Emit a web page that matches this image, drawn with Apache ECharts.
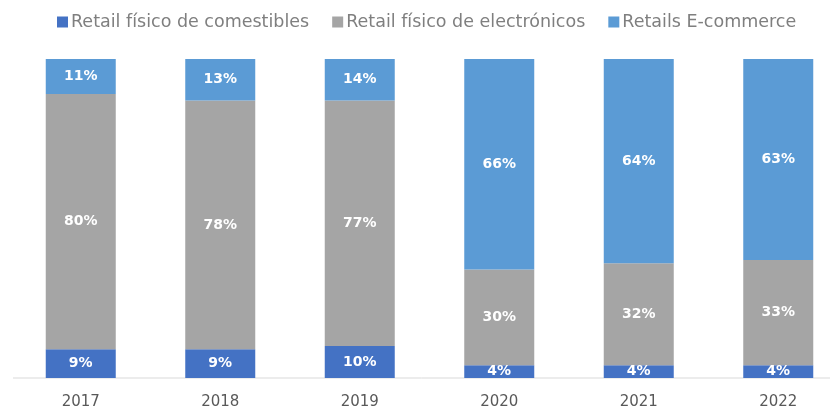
<!DOCTYPE html>
<html>
<head>
<meta charset="utf-8">
<script src="https://cdn.jsdelivr.net/npm/echarts@6/dist/echarts.min.js"></script>
<style>
  html, body { margin: 0; padding: 0; background: #fff; }
  #chart { width: 835px; height: 414px; }
</style>
</head>
<body>
<div id="chart"></div>
<script>
// Years on the category axis
const years = ['2017', '2018', '2019', '2020', '2021', '2022'];

// Share of each retail segment (%)
const comestibles = [9, 9, 10, 4, 4, 4];
const electronicos = [80, 78, 77, 30, 32, 33];
const ecommerce = [11, 13, 14, 66, 64, 63];

const seriesNames = ['Retail físico de comestibles', 'Retail físico de electrónicos', 'Retails E-commerce'];
const seriesColors = ['#4472C4', '#A5A5A5', '#5B9BD5'];

const FONT = 'DejaVu Sans';

const chart = echarts.init(document.getElementById('chart'));

const label = {
  show: true,
  position: 'inside',
  color: '#ffffff',
  fontFamily: FONT,
  fontWeight: 'bold',
  fontSize: 14,
  formatter: p => p.value + '%'
};

function makeSeries(name, data, color) {
  return {
    name: name,
    type: 'bar',
    stack: 'total',
    barWidth: 70,
    data: data,
    itemStyle: { color: color },
    label: label
  };
}

chart.setOption({
  animation: false,
  textStyle: { fontFamily: FONT },
  legend: {
    top: 8,
    left: 52,
    itemWidth: 11,
    itemHeight: 11,
    itemGap: 23,
    icon: 'rect',
    textStyle: { color: '#7F7F7F', fontSize: 17.5, fontFamily: FONT, padding: [0, 0, 0, -2] },
    data: seriesNames
  },
  grid: { left: 11, right: -13, top: 59, bottom: 36, outerBoundsMode: 'none', containLabel: false },
  xAxis: {
    type: 'category',
    data: years,
    axisLine: { show: false },
    axisTick: { show: false },
    axisLabel: { color: '#595959', fontSize: 15, margin: 17, fontFamily: FONT }
  },
  yAxis: {
    type: 'value',
    min: 0,
    max: 100,
    show: false,
    splitLine: { show: false }
  },
  graphic: [{
    type: 'line',
    shape: { x1: 13, y1: 378, x2: 830, y2: 378 },
    style: { stroke: '#D9D9D9', lineWidth: 1 },
    z: 0
  }],
  series: [
    makeSeries(seriesNames[0], comestibles, seriesColors[0]),
    makeSeries(seriesNames[1], electronicos, seriesColors[1]),
    makeSeries(seriesNames[2], ecommerce, seriesColors[2])
  ]
});
</script>
</body>
</html>
